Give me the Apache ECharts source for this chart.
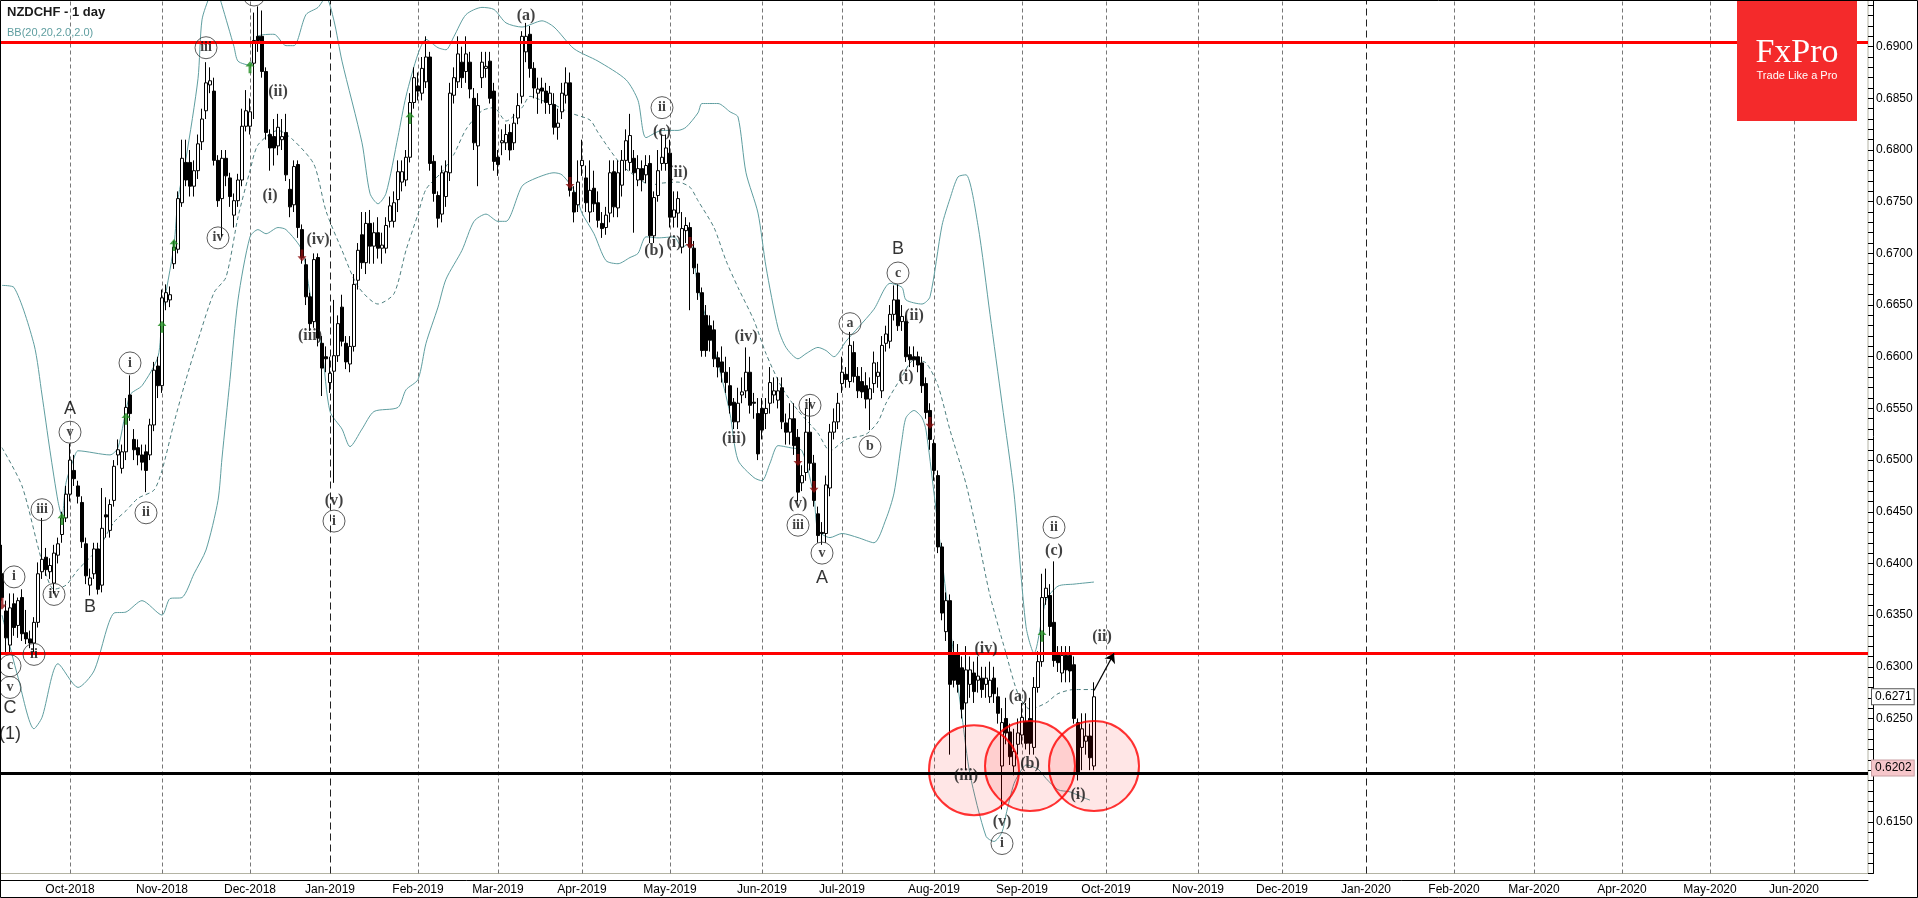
<!DOCTYPE html>
<html>
<head>
<meta charset="utf-8">
<title>NZDCHF - 1 day</title>
<script src="https://cdn.jsdelivr.net/npm/echarts@6/dist/echarts.min.js"></script>
<style>
  html, body { margin: 0; padding: 0; background: #fff; }
  #chart { width: 1918px; height: 898px; }
</style>
</head>
<body>
<div id="chart"></div>
<script>
// daily bars NZDCHF, 6 Sep 2018 .. 26 Sep 2019 (index = trading day)
var openP = [
  0.6390,0.6354,0.6321,0.6361,0.6340,0.6367,0.6333,0.6327,0.6323,0.6343,
  0.6392,0.6406,0.6392,0.6381,0.6408,0.6428,0.6444,0.6467,0.6490,0.6475,
  0.6459,0.6419,0.6379,0.6390,0.6414,0.6379,0.6447,0.6432,0.6461,0.6505,
  0.6492,0.6508,0.6563,0.6520,0.6512,0.6505,0.6508,0.6505,0.6534,0.6591,
  0.6572,0.6653,0.6655,0.6690,0.6704,0.6749,0.6788,0.6788,0.6765,0.6780,
  0.6808,0.6838,0.6863,0.6857,0.6790,0.6753,0.6792,0.6773,0.6737,0.6751,
  0.6771,0.6823,0.6823,0.6884,0.6910,0.6910,0.6876,0.6815,0.6813,0.6804,
  0.6810,0.6817,0.6762,0.6747,0.6786,0.6723,0.6689,0.6658,0.6634,0.6696,
  0.6613,0.6600,0.6575,0.6586,0.6601,0.6648,0.6613,0.6593,0.6610,0.6674,
  0.6718,0.6691,0.6729,0.6707,0.6720,0.6705,0.6705,0.6731,0.6731,0.6752,
  0.6769,0.6771,0.6793,0.6846,0.6862,0.6855,0.6866,0.6890,0.6789,0.6756,
  0.6738,0.6755,0.6778,0.6853,0.6866,0.6885,0.6876,0.6885,0.6850,0.6804,
  0.6870,0.6879,0.6886,0.6857,0.6793,0.6807,0.6807,0.6817,0.6807,0.6831,
  0.6852,0.6895,0.6912,0.6879,0.6855,0.6860,0.6857,0.6844,0.6844,0.6822,
  0.6837,0.6853,0.6865,0.6759,0.6747,0.6785,0.6773,0.6740,0.6763,0.6749,
  0.6729,0.6725,0.6739,0.6779,0.6744,0.6766,0.6790,0.6788,0.6792,0.6771,
  0.6782,0.6776,0.6787,0.6717,0.6756,0.6787,0.6787,0.6797,0.6735,0.6739,
  0.6706,0.6722,0.6725,0.6705,0.6681,0.6662,0.6640,0.6630,0.6626,0.6599,
  0.6595,0.6585,0.6572,0.6556,0.6537,0.6563,0.6567,0.6585,0.6556,0.6545,
  0.6550,0.6545,0.6555,0.6563,0.6558,0.6570,0.6536,0.6527,0.6540,0.6522,
  0.6478,0.6488,0.6527,0.6497,0.6448,0.6430,0.6429,0.6473,0.6527,0.6537,
  0.6574,0.6583,0.6576,0.6604,0.6581,0.6576,0.6572,0.6559,0.6574,0.6581,
  0.6567,0.6613,0.6615,0.6641,0.6655,0.6634,0.6634,0.6602,0.6600,0.6600,
  0.6594,0.6574,0.6548,0.6516,0.6485,0.6416,0.6334,0.6364,0.6313,0.6313,
  0.6299,0.6265,0.6283,0.6294,0.6287,0.6289,0.6283,0.6271,0.6289,0.6271,
  0.6204,0.6250,0.6237,0.6204,0.6225,0.6234,0.6247,0.6250,0.6222,0.6280,
  0.6305,0.6367,0.6369,0.6343,0.6313,0.6294,0.6311,0.6311,0.6302,0.6246,
  0.6222,0.6228,0.6233,0.6204
];
var closeP = [
  0.6367,0.6328,0.6357,0.6338,0.6364,0.6332,0.6327,0.6323,0.6343,0.6390,
  0.6404,0.6394,0.6398,0.6410,0.6419,0.6444,0.6467,0.6500,0.6482,0.6465,
  0.6421,0.6388,0.6386,0.6414,0.6375,0.6434,0.6445,0.6457,0.6494,0.6510,
  0.6508,0.6551,0.6545,0.6510,0.6505,0.6498,0.6490,0.6534,0.6587,0.6572,
  0.6657,0.6662,0.6660,0.6706,0.6753,0.6792,0.6771,0.6765,0.6780,0.6806,
  0.6830,0.6865,0.6867,0.6790,0.6751,0.6792,0.6775,0.6755,0.6751,0.6771,
  0.6823,0.6838,0.6837,0.6906,0.6906,0.6876,0.6817,0.6802,0.6802,0.6822,
  0.6813,0.6776,0.6745,0.6784,0.6725,0.6696,0.6658,0.6632,0.6694,0.6618,
  0.6589,0.6598,0.6584,0.6601,0.6632,0.6615,0.6595,0.6610,0.6670,0.6703,
  0.6691,0.6729,0.6707,0.6720,0.6705,0.6708,0.6727,0.6746,0.6749,0.6779,
  0.6779,0.6793,0.6846,0.6870,0.6857,0.6879,0.6890,0.6787,0.6758,0.6734,
  0.6778,0.6779,0.6855,0.6870,0.6893,0.6870,0.6893,0.6859,0.6807,0.6843,
  0.6885,0.6881,0.6850,0.6789,0.6786,0.6809,0.6815,0.6800,0.6826,0.6843,
  0.6910,0.6910,0.6879,0.6860,0.6859,0.6857,0.6846,0.6855,0.6822,0.6826,
  0.6855,0.6865,0.6761,0.6740,0.6769,0.6790,0.6749,0.6761,0.6748,0.6732,
  0.6724,0.6737,0.6778,0.6745,0.6778,0.6790,0.6809,0.6814,0.6778,0.6782,
  0.6771,0.6785,0.6717,0.6754,0.6780,0.6793,0.6802,0.6735,0.6742,0.6753,
  0.6724,0.6727,0.6706,0.6686,0.6662,0.6606,0.6606,0.6616,0.6598,0.6590,
  0.6585,0.6575,0.6553,0.6537,0.6555,0.6566,0.6585,0.6553,0.6555,0.6506,
  0.6529,0.6550,0.6575,0.6567,0.6567,0.6537,0.6527,0.6540,0.6514,0.6469,
  0.6485,0.6527,0.6497,0.6461,0.6427,0.6429,0.6476,0.6527,0.6537,0.6555,
  0.6585,0.6578,0.6611,0.6581,0.6567,0.6566,0.6559,0.6569,0.6594,0.6585,
  0.6611,0.6622,0.6641,0.6655,0.6630,0.6639,0.6600,0.6597,0.6597,0.6592,
  0.6572,0.6546,0.6520,0.6490,0.6416,0.6352,0.6364,0.6283,0.6287,0.6283,
  0.6259,0.6297,0.6297,0.6276,0.6291,0.6278,0.6289,0.6287,0.6274,0.6255,
  0.6246,0.6236,0.6213,0.6218,0.6236,0.6251,0.6226,0.6226,0.6280,0.6305,
  0.6367,0.6376,0.6339,0.6306,0.6304,0.6311,0.6297,0.6296,0.6250,0.6196,
  0.6240,0.6233,0.6212,0.6271
];
var lowP = [
  0.6364,0.6314,0.6314,0.6330,0.6328,0.6325,0.6322,0.6318,0.6314,0.6338,
  0.6385,0.6388,0.6385,0.6371,0.6400,0.6420,0.6440,0.6460,0.6475,0.6458,
  0.6415,0.6380,0.6369,0.6385,0.6370,0.6372,0.6425,0.6425,0.6455,0.6495,
  0.6487,0.6500,0.6538,0.6500,0.6495,0.6490,0.6469,0.6500,0.6528,0.6560,
  0.6565,0.6645,0.6648,0.6685,0.6700,0.6745,0.6765,0.6755,0.6755,0.6772,
  0.6800,0.6830,0.6855,0.6785,0.6745,0.6716,0.6765,0.6745,0.6725,0.6745,
  0.6765,0.6818,0.6815,0.6830,0.6895,0.6870,0.6810,0.6780,0.6785,0.6795,
  0.6800,0.6770,0.6735,0.6740,0.6715,0.6690,0.6650,0.6625,0.6628,0.6610,
  0.6562,0.6585,0.6565,0.6478,0.6595,0.6610,0.6588,0.6585,0.6605,0.6665,
  0.6685,0.6680,0.6690,0.6690,0.6695,0.6690,0.6700,0.6725,0.6725,0.6740,
  0.6760,0.6765,0.6788,0.6840,0.6848,0.6848,0.6860,0.6780,0.6750,0.6725,
  0.6730,0.6745,0.6770,0.6845,0.6860,0.6860,0.6865,0.6850,0.6800,0.6765,
  0.6860,0.6870,0.6845,0.6780,0.6775,0.6795,0.6800,0.6790,0.6800,0.6825,
  0.6845,0.6885,0.6870,0.6850,0.6835,0.6845,0.6835,0.6835,0.6815,0.6810,
  0.6830,0.6845,0.6755,0.6730,0.6740,0.6775,0.6740,0.6730,0.6740,0.6725,
  0.6715,0.6718,0.6730,0.6735,0.6735,0.6755,0.6780,0.6780,0.6720,0.6765,
  0.6760,0.6768,0.6710,0.6710,0.6750,0.6780,0.6780,0.6725,0.6725,0.6725,
  0.6700,0.6710,0.6645,0.6680,0.6655,0.6600,0.6600,0.6605,0.6590,0.6580,
  0.6575,0.6565,0.6545,0.6530,0.6530,0.6555,0.6560,0.6545,0.6540,0.6500,
  0.6520,0.6530,0.6545,0.6555,0.6550,0.6530,0.6515,0.6515,0.6505,0.6460,
  0.6470,0.6480,0.6490,0.6455,0.6420,0.6418,0.6420,0.6465,0.6520,0.6530,
  0.6565,0.6570,0.6570,0.6575,0.6560,0.6560,0.6550,0.6529,0.6565,0.6570,
  0.6560,0.6605,0.6608,0.6635,0.6625,0.6625,0.6595,0.6590,0.6590,0.6585,
  0.6565,0.6540,0.6510,0.6480,0.6410,0.6345,0.6325,0.6215,0.6280,0.6275,
  0.6250,0.6200,0.6270,0.6265,0.6275,0.6270,0.6270,0.6265,0.6265,0.6245,
  0.6162,0.6225,0.6205,0.6195,0.6215,0.6225,0.6220,0.6215,0.6215,0.6275,
  0.6300,0.6360,0.6330,0.6300,0.6295,0.6285,0.6285,0.6285,0.6245,0.6190,
  0.6200,0.6215,0.6200,0.6200
];
var highP = [
  0.6418,0.6364,0.6371,0.6371,0.6367,0.6375,0.6355,0.6335,0.6348,0.6401,
  0.6444,0.6415,0.6405,0.6418,0.6425,0.6450,0.6475,0.6516,0.6505,0.6480,
  0.6465,0.6425,0.6395,0.6420,0.6420,0.6473,0.6464,0.6462,0.6500,0.6520,
  0.6515,0.6560,0.6582,0.6530,0.6520,0.6515,0.6515,0.6540,0.6595,0.6600,
  0.6665,0.6670,0.6668,0.6712,0.6760,0.6810,0.6810,0.6800,0.6790,0.6815,
  0.6840,0.6885,0.6880,0.6870,0.6795,0.6800,0.6800,0.6778,0.6758,0.6777,
  0.6840,0.6858,0.6850,0.6933,0.6939,0.6935,0.6880,0.6820,0.6830,0.6835,
  0.6830,0.6835,0.6772,0.6790,0.6790,0.6728,0.6695,0.6662,0.6700,0.6700,
  0.6620,0.6610,0.6600,0.6655,0.6640,0.6660,0.6620,0.6620,0.6680,0.6710,
  0.6740,0.6740,0.6742,0.6730,0.6735,0.6720,0.6735,0.6755,0.6760,0.6790,
  0.6790,0.6800,0.6855,0.6880,0.6875,0.6890,0.6910,0.6895,0.6795,0.6760,
  0.6785,0.6790,0.6865,0.6880,0.6910,0.6900,0.6910,0.6895,0.6860,0.6855,
  0.6895,0.6895,0.6895,0.6865,0.6800,0.6820,0.6825,0.6825,0.6835,0.6855,
  0.6915,0.6923,0.6920,0.6885,0.6870,0.6870,0.6865,0.6862,0.6855,0.6840,
  0.6865,0.6880,0.6875,0.6765,0.6790,0.6810,0.6785,0.6790,0.6780,0.6760,
  0.6740,0.6745,0.6790,0.6790,0.6790,0.6800,0.6820,0.6835,0.6800,0.6795,
  0.6790,0.6795,0.6795,0.6760,0.6800,0.6815,0.6815,0.6810,0.6760,0.6760,
  0.6740,0.6735,0.6730,0.6712,0.6690,0.6667,0.6650,0.6640,0.6635,0.6605,
  0.6610,0.6600,0.6590,0.6560,0.6570,0.6580,0.6609,0.6600,0.6565,0.6560,
  0.6560,0.6560,0.6590,0.6580,0.6580,0.6580,0.6545,0.6555,0.6555,0.6530,
  0.6495,0.6550,0.6560,0.6505,0.6455,0.6440,0.6485,0.6535,0.6550,0.6565,
  0.6600,0.6590,0.6624,0.6615,0.6590,0.6590,0.6585,0.6580,0.6605,0.6595,
  0.6620,0.6630,0.6650,0.6669,0.6670,0.6650,0.6640,0.6610,0.6610,0.6605,
  0.6600,0.6580,0.6555,0.6520,0.6490,0.6420,0.6372,0.6370,0.6325,0.6322,
  0.6310,0.6320,0.6310,0.6305,0.6310,0.6300,0.6300,0.6305,0.6300,0.6280,
  0.6260,0.6270,0.6245,0.6240,0.6250,0.6265,0.6265,0.6270,0.6290,0.6315,
  0.6390,0.6395,0.6380,0.6402,0.6320,0.6320,0.6320,0.6320,0.6310,0.6250,
  0.6255,0.6255,0.6245,0.6285
];

// Bollinger bands (20, 2.0): [day index, price]
var bbUpper = [
  [0,0.6669],[3,0.6667],[8,0.6612],[10,0.6563],[12,0.6509],[14,0.6460],[15,0.6445],[16,0.6478],
  [18,0.6502],[19,0.6509],[27,0.6505],[29,0.6512],[32,0.6563],[35,0.6572],[39,0.6600],[40,0.6639],
  [43,0.6708],[44,0.6753],[46,0.6792],[49,0.6869],[50,0.6926],[52,0.6950],[53,0.6958],[54,0.6952],
  [55,0.6940],[58,0.6900],[59,0.6886],[62,0.6882],[64,0.6910],[68,0.6912],[71,0.6901],[73,0.6901],
  [76,0.6931],[79,0.6938],[81,0.6948],[83,0.6925],[85,0.6886],[90,0.6807],[92,0.6758],[94,0.6748],
  [96,0.6758],[99,0.6813],[101,0.6852],[104,0.6893],[106,0.6907],[109,0.6899],[111,0.6897],[113,0.6910],
  [116,0.6931],[120,0.6938],[123,0.6936],[126,0.6923],[130,0.6919],[135,0.6925],[138,0.6919],[143,0.6898],
  [149,0.6886],[156,0.6868],[159,0.6848],[161,0.6812],[165,0.6819],[169,0.6819],[171,0.6822],[174,0.6836],
  [175,0.6845],[179,0.6845],[182,0.6837],[184,0.6832],[186,0.6778],[189,0.6739],[191,0.6687],[194,0.6628],
  [196,0.6609],[199,0.6598],[201,0.6603],[204,0.6609],[206,0.6606],[208,0.6600],[211,0.6615],[214,0.6628],
  [218,0.6646],[222,0.6671],[225,0.6667],[226,0.6655],[230,0.6651],[232,0.6658],[235,0.6727],[237,0.6753],
  [239,0.6774],[241,0.6776],[244,0.6727],[247,0.6641],[250,0.6555],[253,0.6468],[256,0.6339],[258,0.6313],
  [261,0.6364],[264,0.6378],[268,0.6380],[273,0.6382]
];
var bbMiddle = [
  [0,0.6512],[5,0.6475],[10,0.6402],[13,0.6375],[16,0.6379],[19,0.6394],[24,0.6414],[28,0.6440],
  [31,0.6451],[34,0.6463],[38,0.6471],[40,0.6490],[43,0.6536],[46,0.6578],[49,0.6616],[53,0.6662],
  [56,0.6677],[59,0.6735],[62,0.6780],[64,0.6805],[69,0.6819],[73,0.6809],[78,0.6786],[81,0.6741],
  [85,0.6703],[89,0.6668],[94,0.6651],[98,0.6661],[101,0.6703],[104,0.6738],[106,0.6762],[110,0.6779],
  [113,0.6796],[116,0.6820],[120,0.6838],[123,0.6841],[126,0.6828],[130,0.6841],[132,0.6852],[135,0.6848],
  [138,0.6844],[142,0.6836],[147,0.6829],[149,0.6817],[152,0.6800],[155,0.6785],[159,0.6773],[162,0.6766],
  [165,0.6768],[169,0.6769],[172,0.6764],[174,0.6751],[178,0.6725],[181,0.6693],[184,0.6667],[188,0.6635],
  [191,0.6603],[195,0.6570],[199,0.6548],[204,0.6526],[207,0.6509],[211,0.6520],[216,0.6525],[219,0.6537],
  [221,0.6555],[225,0.6581],[228,0.6597],[231,0.6594],[234,0.6572],[237,0.6529],[241,0.6477],[244,0.6425],
  [247,0.6369],[251,0.6313],[254,0.6274],[257,0.6259],[261,0.6265],[264,0.6274],[268,0.6278],[273,0.6278]
];
var bbLower = [
  [0,0.6350],[4,0.6290],[8,0.6240],[10,0.6251],[14,0.6303],[19,0.6280],[23,0.6296],[28,0.6352],
  [31,0.6353],[35,0.6364],[40,0.6350],[42,0.6366],[45,0.6367],[48,0.6390],[51,0.6413],[54,0.6461],
  [55,0.6502],[57,0.6578],[59,0.6655],[62,0.6716],[64,0.6723],[66,0.6719],[69,0.6725],[71,0.6723],
  [75,0.6703],[77,0.6661],[80,0.6606],[82,0.6547],[85,0.6530],[87,0.6513],[90,0.6530],[93,0.6547],
  [99,0.6551],[101,0.6568],[104,0.6578],[106,0.6613],[109,0.6648],[111,0.6675],[115,0.6703],[118,0.6731],
  [121,0.6738],[124,0.6731],[126,0.6731],[130,0.6765],[133,0.6772],[138,0.6778],[140,0.6776],[143,0.6761],
  [145,0.6739],[148,0.6719],[151,0.6693],[154,0.6690],[157,0.6696],[159,0.6700],[161,0.6716],[164,0.6715],
  [168,0.6716],[170,0.6706],[172,0.6710],[174,0.6667],[177,0.6623],[179,0.6594],[182,0.6545],[184,0.6500],
  [188,0.6483],[190,0.6480],[192,0.6497],[194,0.6514],[197,0.6512],[200,0.6509],[203,0.6464],[204,0.6432],
  [207,0.6425],[210,0.6429],[214,0.6425],[218,0.6420],[221,0.6443],[223,0.6468],[225,0.6520],[226,0.6541],
  [228,0.6548],[230,0.6541],[231,0.6529],[233,0.6468],[235,0.6404],[237,0.6339],[240,0.6252],[242,0.6196],
  [246,0.6136],[248,0.6131],[250,0.6140],[251,0.6157],[253,0.6187],[255,0.6201],[256,0.6205],[259,0.6201],
  [261,0.6192],[264,0.6181],[267,0.6179],[270,0.6174],[272,0.6171]
];

// horizontal levels and the two price tags on the scale
var redLevels = [0.6904, 0.6313];
var blackLevel = 0.6197;
var lastPrice = 0.6271;
var markedPrice = 0.6202;

// Elliott wave marks: [day index, price, text]
var circledLabels = [
  [3,0.6387,'i'],[2,0.6301,'c'],[2,0.6280,'v'],[8,0.6312,'ii'],[10,0.6452,'iii'],[13,0.6370,'iv'],
  [17,0.6527,'v'],[32,0.6594,'i'],[36,0.6449,'ii'],[51,0.6899,'iii'],[54,0.6715,'iv'],[63,0.6950,'v'],
  [83,0.6441,'i'],[165,0.6841,'ii'],[202,0.6553,'iv'],[199,0.6437,'iii'],[205,0.6410,'v'],
  [212,0.6632,'a'],[217,0.6513,'b'],[224,0.6681,'c'],[250,0.6129,'i'],[263,0.6435,'ii']
];
var parenLabels = [
  [69,0.6856,'(ii)'],[67,0.6756,'(i)'],[79,0.6713,'(iv)'],[77,0.6620,'(iii)'],[83,0.6461,'(v)'],
  [131,0.6930,'(a)'],[165,0.6818,'(c)'],[169,0.6778,'(ii)'],[163,0.6702,'(b)'],[168,0.6710,'(i)'],
  [186,0.6619,'(iv)'],[183,0.6521,'(iii)'],[199,0.6458,'(v)'],[228,0.6640,'(ii)'],[226,0.6581,'(i)'],
  [246,0.6317,'(iv)'],[241,0.6194,'(iii)'],[250,0.6150,'(v)'],[254,0.6271,'(a)'],[257,0.6206,'(b)'],
  [263,0.6412,'(c)'],[269,0.6176,'(i)'],[275,0.6329,'(ii)']
];
var waveLetters = [
  [2,0.6260,'C'],[2,0.6235,'(1)'],[22,0.6358,'B'],[17,0.6549,'A'],[205,0.6386,'A'],[224,0.6704,'B']
];
var arrowsUp = [[15,0.6443],[31,0.6540],[40,0.6629],[43,0.6708],[62,0.6880],[102,0.6831],[260,0.6330]];
var arrowsDown = [[0,0.6361],[75,0.6698],[142,0.6768],[172,0.6710],[199,0.6500],[203,0.6474],[232,0.6536]];

// support zones (red circles) and the projected move
var zoneCentres = [[243,0.6200],[257,0.6204],[273,0.6204]];
var projection = [[273,0.6277],[278,0.6313]];

// trading calendar for the axis (no weekends, no 25 Dec / 1 Jan)
var calendarStart = '2018-09-06';
var calendarEnd = '2020-06-25';
var closedDays = ['12-25', '01-01'];
var monthNames = ['Jan','Feb','Mar','Apr','May','Jun','Jul','Aug','Sep','Oct','Nov','Dec'];

function tradingDays() {
  var out = [];
  var d = new Date(calendarStart + 'T00:00:00Z');
  var end = new Date(calendarEnd + 'T00:00:00Z');
  while (d <= end) {
    var wd = d.getUTCDay();
    var iso = d.toISOString().slice(0, 10);
    if (wd !== 0 && wd !== 6 && closedDays.indexOf(iso.slice(5)) < 0) out.push(iso);
    d.setUTCDate(d.getUTCDate() + 1);
  }
  return out;
}

var days = tradingDays();
var isMonthStart = days.map(function (d, i) {
  return i > 0 && d.slice(0, 7) !== days[i - 1].slice(0, 7);
});

var candles = openP.map(function (o, i) {
  return [o, closeP[i], lowP[i], highP[i]];
});

// month separators, January ones drawn darker / longer
var monthLines = [];
days.forEach(function (d, i) {
  if (!isMonthStart[i]) return;
  var jan = d.slice(5, 7) === '01';
  monthLines.push({
    xAxis: d,
    lineStyle: jan ? { color: '#222', type: [7, 4], width: 1 } : { color: '#777', type: [4, 3], width: 1 }
  });
});

function toPoints(list) {
  return list.map(function (d) { return { value: [d[0], d[1]], name: d[2] }; });
}

var serif = '"Liberation Serif", "DejaVu Serif", serif';
var sans = '"Liberation Sans", Arial, sans-serif';
var arrowPath = 'path://M5,0 L10,6 L6.6,6 L6.6,14 L3.4,14 L3.4,6 L0,6 Z';
var clear = 'rgba(0,0,0,0)';

var chart = echarts.init(document.getElementById('chart'));

var option = {
  animation: false,
  backgroundColor: '#ffffff',
  textStyle: { fontFamily: sans },
  title: {
    left: 7, top: 6, padding: 0, itemGap: 8,
    text: 'NZDCHF - 1 day',
    textStyle: { fontSize: 13, fontWeight: 'bold', color: '#1a1a1a', fontFamily: sans },
    subtext: 'BB(20,20,2.0,2.0)',
    subtextStyle: { fontSize: 11, color: '#5f9ea0', fontFamily: sans }
  },
  grid: {
    left: 0, right: 50, top: -5, bottom: 24.5,
    outerBoundsMode: 'none', containLabel: false,
    show: true, borderColor: '#b4b4a4', borderWidth: 1
  },
  xAxis: {
    type: 'category',
    data: days,
    boundaryGap: true,
    offset: 7,
    axisLine: { lineStyle: { color: '#000', width: 1 } },
    axisTick: {
      inside: true, length: 5, alignWithLabel: true,
      interval: function (i) { return isMonthStart[i]; },
      lineStyle: { color: '#000' }
    },
    axisLabel: {
      interval: function (i) { return isMonthStart[i]; },
      formatter: function (v) { return monthNames[+v.slice(5, 7) - 1] + '-' + v.slice(0, 4); },
      margin: 3, fontSize: 12, color: '#000', fontFamily: sans
    },
    splitLine: { show: false }
  },
  yAxis: {
    type: 'value',
    position: 'right',
    min: 0.6100, max: 0.6950, interval: 0.005,
    offset: 5,
    axisLine: { show: true, lineStyle: { color: '#000' } },
    axisTick: { show: true, inside: true, length: 5, lineStyle: { color: '#000' } },
    minorTick: { show: true, splitNumber: 5, length: 5, lineStyle: { color: '#000' } },
    axisLabel: {
      margin: 3, fontSize: 12, color: '#000', fontFamily: sans,
      showMinLabel: false, showMaxLabel: false,
      formatter: function (v) { return v.toFixed(4); }
    },
    splitLine: { show: false }
  },
  series: [
    {
      name: 'BB upper', type: 'line', data: bbUpper, z: 2,
      showSymbol: false, smooth: 0.25, silent: true,
      lineStyle: { color: '#5f9ea0', width: 1 },
      markLine: {
        z: 1, silent: true, symbol: ['none', 'none'], label: { show: false },
        data: monthLines
      }
    },
    {
      name: 'BB middle', type: 'line', data: bbMiddle, z: 2,
      showSymbol: false, smooth: 0.25, silent: true,
      lineStyle: { color: '#4e7f80', width: 1, type: [4, 3] }
    },
    {
      name: 'BB lower', type: 'line', data: bbLower, z: 2,
      showSymbol: false, smooth: 0.25, silent: true,
      lineStyle: { color: '#5f9ea0', width: 1 }
    },
    {
      name: 'NZDCHF', type: 'candlestick', data: candles, z: 3,
      barWidth: 3,
      itemStyle: {
        color: '#ffffff', color0: '#000000',
        borderColor: '#000000', borderColor0: '#000000', borderWidth: 1
      },
      markLine: {
        z: 6, silent: true, symbol: ['none', 'none'], precision: 4,
        data: [
          { yAxis: redLevels[0], lineStyle: { color: '#ff0000', width: 3, type: 'solid' }, label: { show: false } },
          { yAxis: redLevels[1], lineStyle: { color: '#ff0000', width: 3, type: 'solid' }, label: { show: false } },
          { yAxis: blackLevel, lineStyle: { color: '#000000', width: 3, type: 'solid' }, label: { show: false } },
          {
            yAxis: lastPrice, lineStyle: { color: clear, width: 1 },
            label: {
              show: true, position: 'end', distance: 4, formatter: lastPrice.toFixed(4),
              backgroundColor: '#ffffff', borderColor: '#555', borderWidth: 1,
              padding: [2, 2, 1, 3], color: '#000', fontSize: 12, fontFamily: sans
            }
          },
          {
            yAxis: markedPrice, lineStyle: { color: clear, width: 1 },
            label: {
              show: true, position: 'end', distance: 4, formatter: markedPrice.toFixed(4),
              backgroundColor: '#f6c6ca', borderColor: '#c9a0a4', borderWidth: 1,
              padding: [2, 2, 1, 3], color: '#000', fontSize: 12, fontFamily: sans
            }
          }
        ]
      }
    },
    {
      name: 'zones', type: 'scatter', z: 4, silent: true,
      data: zoneCentres,
      symbol: 'circle', symbolSize: 90,
      itemStyle: { color: 'rgba(255,0,0,0.12)', borderColor: '#ff0000', borderWidth: 2 },
      markLine: {
        z: 6, silent: true, symbol: ['none', 'arrow'], symbolSize: 9, precision: 4,
        lineStyle: { color: '#000', width: 1.2, type: 'solid' },
        label: { show: false },
        data: [[
          { coord: [days[projection[0][0]], projection[0][1]] },
          { coord: [days[projection[1][0]], projection[1][1]] }
        ]]
      }
    },
    {
      name: 'circled', type: 'scatter', z: 7, silent: true,
      data: toPoints(circledLabels),
      symbol: 'circle', symbolSize: 22,
      itemStyle: { color: 'rgba(255,255,255,0)', borderColor: '#333', borderWidth: 1 },
      label: {
        show: true, position: 'inside', formatter: '{b}',
        color: '#111', fontFamily: serif, fontWeight: 'bold', fontSize: 14
      }
    },
    {
      name: 'paren', type: 'scatter', z: 7, silent: true,
      data: toPoints(parenLabels),
      symbol: 'circle', symbolSize: 1,
      itemStyle: { color: clear },
      label: {
        show: true, position: 'inside', formatter: '{b}',
        color: '#111', fontFamily: serif, fontWeight: 'bold', fontSize: 16
      }
    },
    {
      name: 'letters', type: 'scatter', z: 7, silent: true,
      data: toPoints(waveLetters),
      symbol: 'circle', symbolSize: 1,
      itemStyle: { color: clear },
      label: {
        show: true, position: 'inside', formatter: '{b}',
        color: '#000', fontFamily: sans, fontSize: 18
      }
    },
    {
      name: 'up', type: 'scatter', z: 7, silent: true,
      data: arrowsUp, symbol: arrowPath, symbolSize: [9, 12],
      itemStyle: { color: '#1e8c1e' }
    },
    {
      name: 'down', type: 'scatter', z: 7, silent: true,
      data: arrowsDown, symbol: arrowPath, symbolSize: [9, 12], symbolRotate: 180,
      itemStyle: { color: '#8e1010' }
    }
  ],
  graphic: [
    { type: 'rect', z: 20, shape: { x: 1737, y: 0, width: 120, height: 121 }, style: { fill: '#f42a2b' } },
    {
      type: 'text', z: 21, x: 1797, y: 53,
      style: { text: 'FxPro', fill: '#ffffff', font: '34px "Liberation Serif"', align: 'center', verticalAlign: 'middle' }
    },
    {
      type: 'text', z: 21, x: 1797, y: 76,
      style: { text: 'Trade Like a Pro', fill: '#ffffff', font: '11px "Liberation Sans"', align: 'center', verticalAlign: 'middle' }
    },
    {
      type: 'rect', z: 30, silent: true, shape: { x: 0.5, y: 0.5, width: 1917, height: 897 },
      style: { fill: null, stroke: '#000', lineWidth: 1 }
    }
  ]
};

chart.setOption(option);
</script>
</body>
</html>
